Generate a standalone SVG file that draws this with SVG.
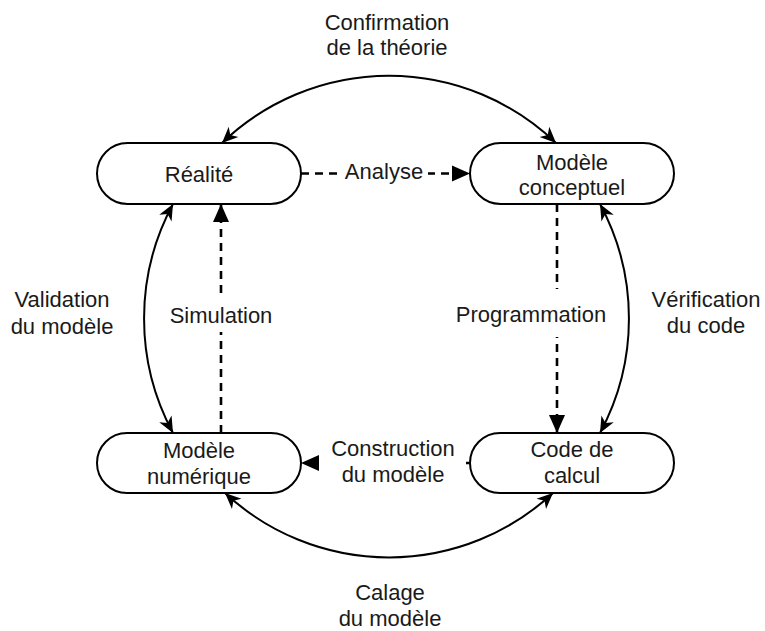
<svg xmlns="http://www.w3.org/2000/svg" width="765" height="631" viewBox="0 0 765 631">
<defs>
<style>
.node{fill:#fff;stroke:#000;stroke-width:2}
text{font-family:"Liberation Sans",Arial,sans-serif;font-size:22px;fill:#1a1a1a;text-anchor:middle}
.arc{fill:none;stroke:#000;stroke-width:2;marker-start:url(#open);marker-end:url(#open)}
.dash{fill:none;stroke:#000;stroke-width:2.6;stroke-dasharray:8 6;marker-end:url(#block)}
.bg{fill:#fff;stroke:none}
</style>
<marker id="open" markerUnits="userSpaceOnUse" markerWidth="18" markerHeight="16" refX="16" refY="7" orient="auto-start-reverse" overflow="visible">
<path d="M0,0 L16,7 L0,14 L4.5,7 z" fill="#000"/>
</marker>
<marker id="block" markerUnits="userSpaceOnUse" markerWidth="20" markerHeight="18" refX="18" refY="8" orient="auto" overflow="visible">
<path d="M0,0 L18,8 L0,16 z" fill="#000"/>
</marker>
</defs>
<g id="connectors">
<path class="arc" d="M222,143 A241,241 0 0 1 556,143"/>
<path class="arc" d="M600,204 A241,241 0 0 1 600,433"/>
<path class="arc" d="M553,493 A241,241 0 0 1 225,493"/>
<path class="arc" d="M173,433 A241,241 0 0 1 173,204"/>
<path class="dash" d="M301,173.5 L470,173.5"/>
<path class="dash" d="M221,433 L221,204"/>
<path class="dash" d="M557,204 L557,433"/>
<path class="dash" d="M470,463 L301,463"/>
<rect class="bg" x="340" y="158" width="88" height="30"/>
<text x="384" y="179">Analyse</text>
<rect class="bg" x="164" y="294" width="112" height="38"/>
<text x="221" y="323">Simulation</text>
<rect class="bg" x="452" y="289" width="158" height="48"/>
<text x="531" y="322">Programmation</text>
<rect class="bg" x="322" y="436" width="144" height="54"/>
<text x="393" y="456">Construction</text>
<text x="393" y="482">du modèle</text>
<text x="387" y="30">Confirmation</text>
<text x="387" y="55">de la théorie</text>
<text x="62" y="307">Validation</text>
<text x="62" y="334">du modèle</text>
<text x="706" y="307">Vérification</text>
<text x="706" y="333">du code</text>
<text x="390" y="600">Calage</text>
<text x="390" y="626">du modèle</text>
</g>
<g id="realite">
<rect class="node" x="97" y="143" width="204" height="61" rx="30.5"/>
<text x="199" y="182">Réalité</text>
</g>
<g id="modele-conceptuel">
<rect class="node" x="470" y="143" width="204" height="61" rx="30.5"/>
<text x="572" y="170">Modèle</text>
<text x="572" y="195">conceptuel</text>
</g>
<g id="modele-numerique">
<rect class="node" x="97" y="433" width="204" height="60" rx="30"/>
<text x="199" y="458">Modèle</text>
<text x="199" y="484">numérique</text>
</g>
<g id="code-de-calcul">
<rect class="node" x="470" y="433" width="204" height="60" rx="30"/>
<text x="572" y="457">Code de</text>
<text x="572" y="483">calcul</text>
</g>
</svg>
